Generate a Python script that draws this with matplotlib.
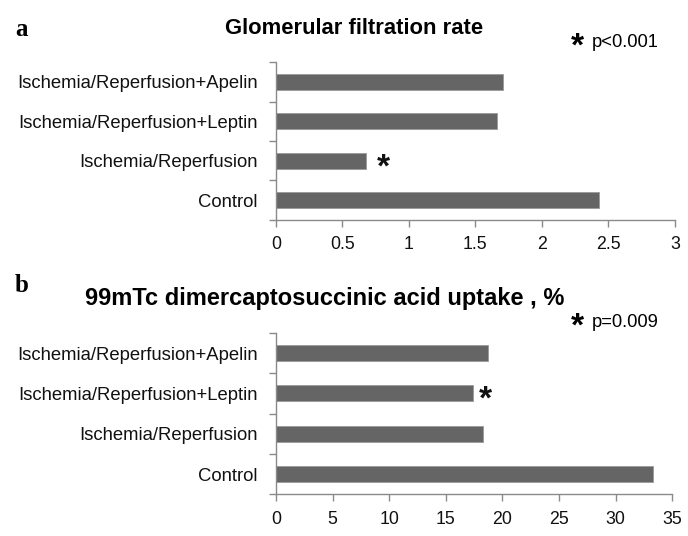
import numpy as np
import matplotlib.pyplot as plt

plt.rcParams['font.family'] = ['Liberation Sans', 'DejaVu Sans']
plt.rcParams['font.size'] = 12

# Data
groups = ['Control', 'Ischemia/Reperfusion',
          'Ischemia/Reperfusion+Leptin', 'Ischemia/Reperfusion+Apelin']
gfr = [2.43, 0.68, 1.66, 1.71]
dmsa = [33.3, 18.3, 17.4, 18.7]

gfr_ticks = [0, 0.5, 1, 1.5, 2, 2.5, 3]
gfr_ticklabels = ['0', '0.5', '1', '1.5', '2', '2.5', '3']
dmsa_ticks = [0, 5, 10, 15, 20, 25, 30, 35]

bar_color = '#656565'
axis_color = '#8a8a8a'

fig = plt.figure(figsize=(6.88, 5.36), dpi=100)
ax1 = fig.add_axes([0.401, 0.590, 0.580, 0.294])
ax2 = fig.add_axes([0.401, 0.078, 0.576, 0.301])


def style_panel(ax, values, xmax, ticks, ticklabels):
    y = np.arange(len(groups))
    ax.barh(y, values, height=0.4, color=bar_color, edgecolor='#9a9a9a', linewidth=0.6)
    ax.set_xlim(0, xmax)
    ax.set_ylim(-0.5, len(groups) - 0.5)
    ax.set_yticks(y)
    ax.set_yticklabels(groups)
    ax.set_yticks(np.arange(len(groups) + 1) - 0.5, minor=True)
    ax.set_xticks(ticks)
    ax.set_xticklabels(ticklabels)
    ax.tick_params(axis='y', which='major', length=0, pad=13, labelsize=13.3, labelcolor='#111111')
    ax.tick_params(axis='y', which='minor', length=5, width=1, color=axis_color, direction='out')
    ax.tick_params(axis='x', length=5, width=1, color=axis_color, direction='out',
                   pad=7, labelsize=12.8, labelcolor='#111111')
    for s in ['top', 'right']:
        ax.spines[s].set_visible(False)
    for s in ['left', 'bottom']:
        ax.spines[s].set_color(axis_color)
        ax.spines[s].set_linewidth(1)


style_panel(ax1, gfr, 3, gfr_ticks, gfr_ticklabels)
style_panel(ax2, dmsa, 35, dmsa_ticks, [str(t) for t in dmsa_ticks])

# significance stars next to bars (asterisk glyph sits high, so nudge it down)
star_kw = dict(fontsize=24, fontweight='bold', ha='center', va='center', color='#111111',
               textcoords='offset points')
ax1.annotate('*', xy=(gfr[1], 1), xytext=(12, -5), **star_kw)
ax2.annotate('*', xy=(dmsa[2], 2), xytext=(9, -5), **star_kw)

# panel letters and titles
fig.text(0.022, 0.945, 'a', fontsize=18, fontweight='bold', family='Liberation Serif', va='center')
fig.text(0.515, 0.946, 'Glomerular filtration rate', fontsize=15.8, fontweight='bold', ha='center', va='center')
fig.text(0.840, 0.912, '*', fontsize=24, fontweight='bold', ha='center', va='center')
fig.text(0.860, 0.921, 'p<0.001', fontsize=13.2, ha='left', va='center')

fig.text(0.022, 0.468, 'b', fontsize=18, fontweight='bold', family='Liberation Serif', va='center')
fig.text(0.123, 0.444, '99mTc dimercaptosuccinic acid uptake , %', fontsize=17, fontweight='bold',
         ha='left', va='center')
fig.text(0.840, 0.389, '*', fontsize=24, fontweight='bold', ha='center', va='center')
fig.text(0.860, 0.398, 'p=0.009', fontsize=13.2, ha='left', va='center')

plt.savefig('out.png', dpi=100, facecolor='white')
